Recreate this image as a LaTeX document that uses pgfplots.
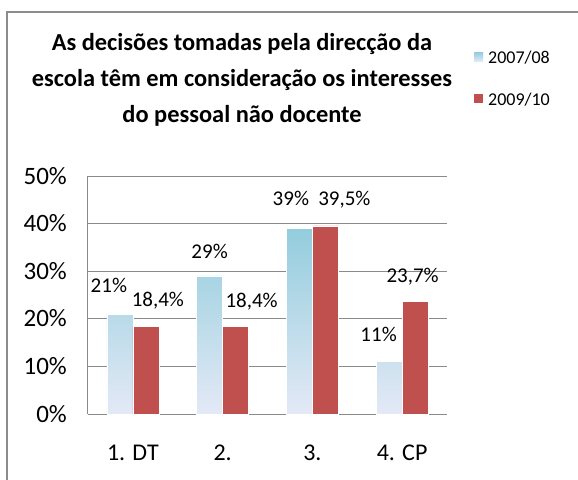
\documentclass[border=0pt]{standalone}
\usepackage{fontspec}
\setmainfont{Carlito}
\usepackage{pgfplots}
\usepackage{pgfplotstable}
\pgfplotsset{compat=1.18}
\definecolor{redbar}{HTML}{C0504D}
\definecolor{bluetop}{HTML}{93CDDD}
\definecolor{bluemid}{HTML}{B9C7E8}
\definecolor{bluebot}{HTML}{E4E9F6}
\definecolor{gridgray}{HTML}{8A8A8A}
\definecolor{framegray}{HTML}{8C8C8C}

\pgfplotstableread{
x y dx dy
0 21 -24 22
1 29 -13 17.4
2 39 -21.5 22.8
3 11 -23.5 20.5
}\bluedata
\pgfplotstableread{
x y dx dy
0 18.4 25 20
1 18.4 29 19.4
2 39.5 32 20.4
3 23.7 10.5 19
}\reddata

\begin{document}
\begin{tikzpicture}
\path[use as bounding box] (0,0) rectangle (578pt,-479pt);
\draw[framegray, line width=2pt] (6.5pt,-11.5pt) rectangle (700pt,-700pt);
\begin{axis}[
  at={(88pt,-414pt)}, anchor=south west,
  scale only axis, width=359pt, height=238pt,
  xmin=-0.5, xmax=3.5, ymin=0, ymax=50,
  ytick={0,10,20,30,40,50},
  yticklabels={0\%,10\%,20\%,30\%,40\%,50\%},
  xtick={0,1,2,3},
  xticklabels={1. DT,2.,3.,4. CP},
  extra x ticks={-0.5},
  extra x tick labels={},
  extra x tick style={grid=major},
  major tick length=0pt,
  ytick pos=left, xtick pos=bottom,
  ymajorgrids,
  grid style={gridgray, line width=1pt},
  axis line style={draw=none},
  yticklabel style={font=\fontsize{25}{30}\selectfont, anchor=base east, inner sep=0pt, xshift=-21pt, yshift=-8pt},
  xticklabel style={font=\fontsize{24}{29}\selectfont, anchor=base, inner sep=0pt, yshift=-46pt},
  title={As decisões tomadas pela direcção da\\escola têm em consideração os interesses\\do pessoal não docente},
  title style={font=\bfseries\fontsize{24.4}{36}\selectfont, align=center, at={(0.429,1.573)}, anchor=north, inner sep=0pt},
  legend style={draw=none, fill=none, at={(1.075,1.528)}, anchor=north west,
    font=\fontsize{18}{21}\selectfont, row sep=28pt, inner sep=0pt,
    nodes={inner sep=0pt},
    /tikz/every odd column/.append style={column sep=5pt}},
  legend cell align=left,
  legend image code/.code={\path[#1, draw=none] (0pt,-3.8pt) rectangle (9pt,5.2pt);},
]
\addplot[ybar, bar width=26pt, bar shift=-13pt, draw=white, line width=0.6pt,
  top color=bluetop, middle color=bluemid, bottom color=bluebot]
  table[x=x, y=y] {\bluedata};
\addlegendentry{2007/08}
\addplot[ybar, bar width=26pt, bar shift=13pt, draw=white, line width=0.6pt,
  fill=redbar]
  table[x=x, y=y] {\reddata};
\addlegendentry{2009/10}

\addplot[draw=none, no markers, forget plot, point meta=y,
  visualization depends on={\thisrow{dx} \as \dx},
  visualization depends on={\thisrow{dy} \as \dy},
  nodes near coords={\pgfmathprintnumber[use comma,assume math mode=true]{\pgfplotspointmeta}\%},
  nodes near coords style={anchor=base, xshift=\dx pt, yshift=\dy pt,
    font=\fontsize{21}{25}\selectfont, inner sep=0pt, text=black}]
  table[x=x, y=y] {\bluedata};
\addplot[draw=none, no markers, forget plot, point meta=y,
  visualization depends on={\thisrow{dx} \as \dx},
  visualization depends on={\thisrow{dy} \as \dy},
  nodes near coords={\pgfmathprintnumber[use comma,assume math mode=true]{\pgfplotspointmeta}\%},
  nodes near coords style={anchor=base, xshift=\dx pt, yshift=\dy pt,
    font=\fontsize{21}{25}\selectfont, inner sep=0pt, text=black}]
  table[x=x, y=y] {\reddata};
\end{axis}
\end{tikzpicture}
\end{document}
